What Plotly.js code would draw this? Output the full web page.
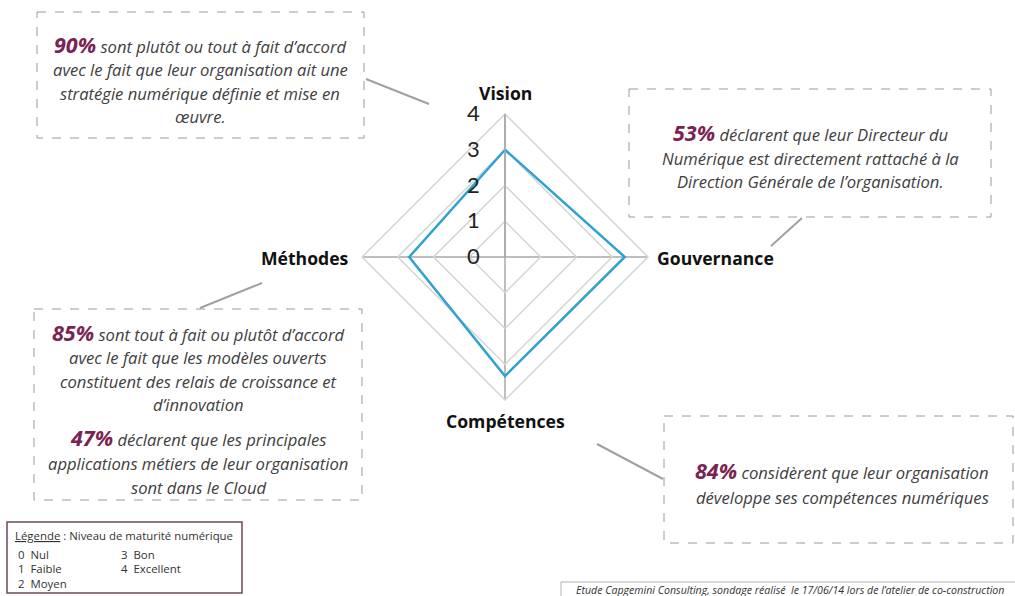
<!DOCTYPE html>
<html>
<head>
<meta charset="utf-8">
<script src="https://cdn.plot.ly/plotly-3.0.1.min.js"></script>
<style>
  html, body { margin: 0; padding: 0; background: #fff; }
  #chart { width: 1015px; height: 596px; }
</style>
</head>
<body>
<div id="chart"></div>
<script>
// axes of the radar and maturity scores
const axes = ['Vision', 'Gouvernance', 'Compétences', 'Méthodes'];
const scores = [3.0, 3.35, 3.33, 2.68];
const levels = [0, 1, 2, 3, 4];
const levelNames = ['Nul', 'Faible', 'Moyen', 'Bon', 'Excellent'];

// callout texts: percentage + lines
const calloutVision = ['90%', ' sont plutôt ou tout à fait d’accord', 'avec le fait que leur organisation ait une', 'stratégie numérique définie et mise en', 'œuvre.'];
const calloutGouv = ['53%', ' déclarent que leur Directeur du', 'Numérique est directement rattaché à la', 'Direction Générale de l’organisation.'];
const calloutMeth1 = ['85%', ' sont tout à fait ou plutôt d’accord', 'avec le fait que les modèles ouverts', 'constituent des relais de croissance et', 'd’innovation'];
const calloutMeth2 = ['47%', ' déclarent que les principales', 'applications métiers de leur organisation', 'sont dans le Cloud'];
const calloutComp = ['84%', ' considèrent que leur organisation', 'développe ses compétences numériques'];
const sourceText = 'Etude Capgemini Consulting, sondage réalisé  le 17/06/14 lors de l’atelier de co-construction';

const W = 1015, H = 596;
const px = x => x / W;
const py = y => 1 - y / H;

const FONT = '"Open Sans", Lato, sans-serif';
const TXT = '#404040';
const PCT = '#7b2252';

const annotations = [];
const shapes = [];

function callout(lines, cx, y0, step) {
  lines.slice(1).forEach((l, i) => {
    let t = '<i>' + l + '</i>';
    if (i === 0) t = '<b><i><span style="font-size:21.5px;color:' + PCT + '">' + lines[0] + '</span></i></b>' + t;
    annotations.push({
      xref: 'paper', yref: 'paper', x: px(cx), y: py(i === 0 ? y0 - 2 : y0 + i * step),
      text: t, showarrow: false, xanchor: 'center', yanchor: 'middle',
      font: {family: FONT, size: 16.6, color: TXT}
    });
  });
}

function dashedBox(x0, y0, x1, y1) {
  shapes.push({type: 'rect', xref: 'paper', yref: 'paper',
    x0: px(x0), x1: px(x1), y0: py(y0), y1: py(y1),
    line: {color: '#9a9a9a', width: 1, dash: 'dash'}});
}
function connector(x0, y0, x1, y1) {
  shapes.push({type: 'line', xref: 'paper', yref: 'paper',
    x0: px(x0), x1: px(x1), y0: py(y0), y1: py(y1),
    line: {color: '#a0a0a0', width: 2}});
}

dashedBox(37, 12, 364, 138);
callout(calloutVision, 200, 46, 23.5);
connector(366, 79, 429, 104);

dashedBox(629, 89, 991, 217);
callout(calloutGouv, 810, 134, 24);
connector(802, 218, 771, 246);

dashedBox(34, 309, 362, 500);
callout(calloutMeth1, 198, 334, 23.5);
callout(calloutMeth2, 198, 439, 24);
connector(200, 308, 262, 283);

dashedBox(664, 416, 1013, 543);
callout(calloutComp, 842, 472, 25);
connector(597, 444, 663, 479);

// axis category labels placed around the radar
const axisLabelPos = [[505, 93, 'center'], [655, 258, 'left'], [505, 421, 'center'], [351, 258, 'right']];
axes.forEach((a, i) => {
  const p = axisLabelPos[i];
  annotations.push({xref: 'paper', yref: 'paper', x: px(p[0]), y: py(p[1]),
    text: '<b>' + a + '</b>', showarrow: false, xanchor: p[2], yanchor: 'middle',
    font: {family: FONT, size: 17.6, color: '#111'}});
});

// legend box
shapes.push({type: 'rect', xref: 'paper', yref: 'paper',
  x0: px(7), x1: px(242), y0: py(522), y1: py(593),
  line: {color: '#6e4a5c', width: 1.5}});
annotations.push({xref: 'paper', yref: 'paper', x: px(13), y: py(535),
  text: '<span style="text-decoration:underline">Légende</span> : Niveau de maturité numérique',
  showarrow: false, xanchor: 'left', yanchor: 'middle',
  font: {family: FONT, size: 11.4, color: '#333'}});
levels.forEach((lv, i) => {
  const col = i < 3 ? 0 : 1;
  const row = i < 3 ? i : i - 3;
  annotations.push({xref: 'paper', yref: 'paper',
    x: px(col === 0 ? 16 : 119), y: py(554 + row * 14.5),
    text: lv + '  ' + levelNames[i], showarrow: false, xanchor: 'left', yanchor: 'middle',
    font: {family: FONT, size: 11.4, color: '#333'}});
});

// source box
shapes.push({type: 'rect', xref: 'paper', yref: 'paper',
  x0: px(561), x1: px(1030), y0: py(582), y1: py(605),
  line: {color: '#b0b0b0', width: 1}});
annotations.push({xref: 'paper', yref: 'paper', x: px(574), y: py(590),
  text: '<i>' + sourceText + '</i>', showarrow: false, xanchor: 'left', yanchor: 'middle',
  font: {family: FONT, size: 10.6, color: '#333'}});

const trace = {
  type: 'scatterpolar',
  r: scores.concat([scores[0]]),
  theta: axes.concat([axes[0]]),
  mode: 'lines',
  line: {color: '#2ea3d2', width: 2.5},
  hoverinfo: 'skip'
};

const layout = {
  width: W, height: H,
  margin: {l: 0, r: 0, t: 0, b: 0},
  paper_bgcolor: '#fff',
  showlegend: false,
  polar: {
    domain: {x: [362 / W, 648 / W], y: [196 / H, 482 / H]},
    bgcolor: 'rgba(0,0,0,0)',
    gridshape: 'linear',
    radialaxis: {
      range: [0, 4], tickvals: levels, angle: 90, tickangle: 90,
      side: 'counterclockwise',
      ticktext: levels.map(v => v + '\u00a0\u00a0\u00a0'),
      showline: true, linecolor: '#a8a8a8', linewidth: 1.5,
      gridcolor: '#d4d4d4', gridwidth: 1.5, ticks: '',
      tickfont: {family: 'Lato, sans-serif', size: 22, color: '#222'}
    },
    angularaxis: {
      direction: 'clockwise', rotation: 90,
      linecolor: '#d4d4d4', linewidth: 1.5,
      gridcolor: '#a8a8a8', gridwidth: 1.5, ticks: '',
      showticklabels: false
    }
  },
  annotations: annotations,
  shapes: shapes
};

Plotly.newPlot('chart', [trace], layout, {displayModeBar: false, staticPlot: true});
</script>
</body>
</html>
